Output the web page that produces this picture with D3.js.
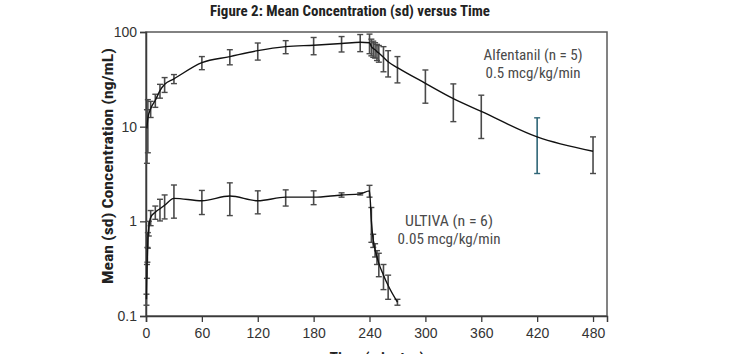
<!DOCTYPE html>
<html><head><meta charset="utf-8">
<script src="https://cdn.jsdelivr.net/npm/d3@7"></script>
<style>
html,body{margin:0;padding:0;background:#fff;}
svg{display:block;}
text{font-family:"Liberation Sans Narrow","Arial Narrow","Roboto Condensed",sans-serif;}
</style></head>
<body>
<svg id="c" width="734" height="354"></svg>
<script>
// ---- data ----
const xTicks = [0, 60, 120, 180, 240, 300, 360, 420, 480];
const yTicks = [0.1, 1, 10, 100];
const yTickLabels = ["0.1", "1", "10", "100"];

const alfTime = [1, 2, 5, 10, 15, 20, 30, 60, 90, 120, 150, 180, 210, 230, 240, 242, 244, 246, 248, 250, 255, 260, 270, 300, 330, 360, 420, 480];
const alfMean = [9.6, 12.3, 15.5, 19, 24, 28, 32, 47.5, 55, 63.5, 70, 72.5, 75.5, 78, 77, 70, 67, 65, 62, 60, 54, 48.5, 42, 28.7, 19.8, 14.5, 7.8, 5.5];
const alfSD = [5.5, 7, 3, 3, 4, 5, 3.5, 7.5, 10, 13, 11, 15, 14, 16, 18, 14, 13, 12, 12, 12, 16, 15, 13, 11, 8.5, 7, 4.6, 2.3];

const ultTime = [0.5, 1, 1.5, 2, 3, 5, 10, 15, 20, 30, 60, 90, 120, 150, 180, 210, 230, 240, 242, 244, 246, 248, 250, 255, 260, 270];
const ultMean = [0.15, 0.3, 0.45, 0.64, 0.85, 1.1, 1.25, 1.36, 1.48, 1.75, 1.65, 1.85, 1.65, 1.8, 1.8, 1.9, 1.95, 2.1, 1.0, 0.63, 0.5, 0.42, 0.36, 0.27, 0.21, 0.14];
const ultSD = [0.02, 0.05, 0.08, 0.12, 0.15, 0.2, 0.2, 0.35, 0.42, 0.67, 0.47, 0.7, 0.45, 0.35, 0.3, 0.1, 0.05, 0.3, 0.4, 0.1, 0.08, 0.07, 0.1, 0.08, 0.06, 0.01];

const labels = {
  title: "Figure 2: Mean Concentration (sd) versus Time",
  yTitle: "Mean (sd) Concentration (ng/mL)",
  xTitle: "Time (minutes)",
  alf: ["Alfentanil (n = 5)", "0.5 mcg/kg/min"],
  ult: ["ULTIVA (n = 6)", "0.05 mcg/kg/min"]
};

// ---- layout ----
const L = 146, R = 607, T = 32, B = 316;
const svg = d3.select("#c");
const x = d3.scaleLinear().domain([0, 495]).range([L, R]);
const y = d3.scaleLog().domain([0.1, 100]).range([B, T]);

// frame
svg.append("rect").attr("x", L).attr("y", T).attr("width", R - L).attr("height", B - T)
  .attr("fill", "none").attr("stroke", "#5a5a5a").attr("stroke-width", 1.5);

// axes
const xAxis = d3.axisBottom(x).tickValues(xTicks).tickSize(6).tickPadding(6).tickFormat(d3.format("d"));
const gx = svg.append("g").attr("transform", `translate(0,${B})`).call(xAxis);
const yAxis = d3.axisLeft(y).tickValues(yTicks).tickSize(6).tickPadding(3)
  .tickFormat((d, i) => yTickLabels[i]);
const gy = svg.append("g").attr("transform", `translate(${L},0)`).call(yAxis);
[gx, gy].forEach(g => {
  g.select(".domain").attr("stroke", "#3a3a3a").attr("stroke-width", 1.5);
  g.selectAll(".tick line").attr("stroke", "#3a3a3a").attr("stroke-width", 1.3);
  g.selectAll(".tick text").attr("fill", "#333").style("font-size", "14px")
    .style("font-family", "'Liberation Sans Narrow','Arial Narrow',sans-serif");
});

// series
function drawSeries(times, means, sds, hl) {
  const pts = times.map((t, i) => ({t, m: means[i], s: sds[i]}));
  const g = svg.append("g");
  g.selectAll("g.eb").data(pts).join("g").attr("class", "eb").each(function(d) {
    const lo = Math.max(d.m - d.s, 0.1), hi = d.m + d.s;
    const gg = d3.select(this);
    const col = (hl && d.t === hl) ? "#2f6677" : "#4a4a4a";
    const cx = x(d.t);
    gg.append("line").attr("x1", cx).attr("x2", cx).attr("y1", y(lo)).attr("y2", y(hi))
      .attr("stroke", col).attr("stroke-width", 1.6);
    [lo, hi].forEach(v => gg.append("line").attr("x1", cx - 3).attr("x2", cx + 3)
      .attr("y1", y(v)).attr("y2", y(v)).attr("stroke", col).attr("stroke-width", 1.4));
  });
  const line = d3.line().x(d => x(d.t)).y(d => y(d.m)).curve(d3.curveMonotoneX);
  g.append("path").datum(pts).attr("d", line).attr("fill", "none")
    .attr("stroke", "#111").attr("stroke-width", 1.4);
}
drawSeries(alfTime, alfMean, alfSD, 420);
drawSeries(ultTime, ultMean, ultSD, null);

// texts
function fit(sel, w) { return sel.attr("textLength", w).attr("lengthAdjust", "spacingAndGlyphs"); }
fit(svg.append("text").attr("x", 350).attr("y", 16).attr("text-anchor", "middle")
  .attr("fill", "#222").style("font-size", "14.5px").style("font-weight", "bold").text(labels.title), 280);
fit(svg.append("text").attr("transform", "translate(113,166) rotate(-90)").attr("text-anchor", "middle")
  .attr("fill", "#222").style("font-size", "14.5px").style("font-weight", "bold").text(labels.yTitle), 236);
fit(svg.append("text").attr("x", 377).attr("y", 363).attr("text-anchor", "middle")
  .attr("fill", "#222").style("font-size", "14.5px").style("font-weight", "bold").text(labels.xTitle), 95);

const alfW = [99, 95], ultW = [88, 103];
labels.alf.forEach((s, i) => fit(svg.append("text").attr("x", 533).attr("y", 60 + i * 18)
  .attr("text-anchor", "middle").attr("fill", "#4a4a4a").style("font-size", "14px").text(s), alfW[i]));
labels.ult.forEach((s, i) => fit(svg.append("text").attr("x", 449).attr("y", 226 + i * 18)
  .attr("text-anchor", "middle").attr("fill", "#4a4a4a").style("font-size", "14px").text(s), ultW[i]));
</script>
</body></html>
